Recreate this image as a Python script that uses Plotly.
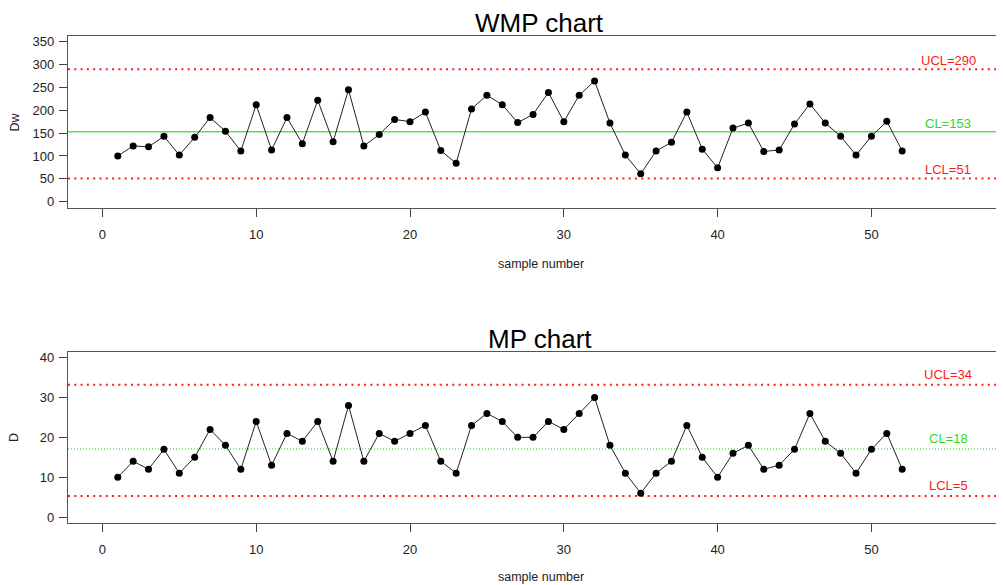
import plotly.graph_objects as go

# ---- data ----
sample = list(range(1, 53))
wmp_values = [100, 122, 120, 143, 102, 141, 184, 154, 111, 212, 113, 184, 127, 222, 131, 245,
              122, 147, 180, 175, 196, 112, 84, 203, 233, 212, 173, 191, 239, 175, 233, 264,
              172, 102, 61, 111, 130, 196, 115, 74, 161, 172, 110, 113, 170, 214, 172, 143,
              102, 143, 176, 111]
mp_values = [10, 14, 12, 17, 11, 15, 22, 18, 12, 24, 13, 21, 19, 24, 14, 28,
             14, 21, 19, 21, 23, 14, 11, 23, 26, 24, 20, 20, 24, 22, 26, 30,
             18, 11, 6, 11, 14, 23, 15, 10, 16, 18, 12, 13, 17, 26, 19, 16,
             11, 17, 21, 12]
wmp_limits = [290, 153, 51]          # UCL, CL, LCL (line positions)
wmp_limit_labels = ["UCL=290", "CL=153", "LCL=51"]
mp_limits = [33.2, 17.1, 5.3]         # UCL, CL, LCL (line positions)
mp_limit_labels = ["UCL=34", "CL=18", "LCL=5"]
x_ticks = [0, 10, 20, 30, 40, 50]
wmp_y_ticks = [0, 50, 100, 150, 200, 250, 300, 350]
mp_y_ticks = [0, 10, 20, 30, 40]
titles = ["WMP chart", "MP chart"]
y_titles = ["Dw", "D"]
x_title = "sample number"

FONT = "Liberation Sans, Arial, sans-serif"
RED = "#ff1a1a"
GREEN_LINE = "#5ddc5d"
GREEN_TXT = "#22dd22"

OFF = 8  # page body margin offset
fig = go.Figure()

fig.add_trace(go.Scatter(x=sample, y=wmp_values, mode="lines+markers",
                         line=dict(color="#222222", width=1),
                         marker=dict(color="black", size=7),
                         xaxis="x", yaxis="y", showlegend=False))
fig.add_trace(go.Scatter(x=sample, y=mp_values, mode="lines+markers",
                         line=dict(color="#222222", width=1),
                         marker=dict(color="black", size=7),
                         xaxis="x2", yaxis="y2", showlegend=False))

red_dot = dict(color=RED, width=2, dash="2px,4.3px")
# top chart limits
fig.add_shape(type="line", xref="x domain", yref="y", x0=0, x1=1, y0=wmp_limits[0], y1=wmp_limits[0], line=red_dot, layer="below")
fig.add_shape(type="line", xref="x domain", yref="y", x0=0, x1=1, y0=wmp_limits[1], y1=wmp_limits[1], line=dict(color=GREEN_LINE, width=1.3), layer="below")
fig.add_shape(type="line", xref="x domain", yref="y", x0=0, x1=1, y0=wmp_limits[2], y1=wmp_limits[2], line=red_dot, layer="below")
# bottom chart limits
fig.add_shape(type="line", xref="x2 domain", yref="y2", x0=0, x1=1, y0=mp_limits[0], y1=mp_limits[0], line=red_dot, layer="below")
fig.add_shape(type="line", xref="x2 domain", yref="y2", x0=0, x1=1, y0=mp_limits[1], y1=mp_limits[1], line=dict(color="#33cc33", width=1, dash="1px,2px"), layer="below")
fig.add_shape(type="line", xref="x2 domain", yref="y2", x0=0, x1=1, y0=mp_limits[2], y1=mp_limits[2], line=red_dot, layer="below")

annotations = []
label_colors = [RED, GREEN_TXT, RED]
for val, txt, col in zip(wmp_limits, wmp_limit_labels, label_colors):
    annotations.append(dict(x=55, y=val, xref="x", yref="y", text=txt, showarrow=False,
                            font=dict(family=FONT, size=13, color=col),
                            xanchor="center", yanchor="middle", yshift=8.5))
for val, txt, col in zip(mp_limits, mp_limit_labels, label_colors):
    annotations.append(dict(x=55, y=val, xref="x2", yref="y2", text=txt, showarrow=False,
                            font=dict(family=FONT, size=13, color=col),
                            xanchor="center", yanchor="middle", yshift=10.5))

# target-pixel geometry (page coordinates), converted to figure coordinates
W, H = 1004 - OFF, 585 - OFF
L, R = 68 - OFF, 0
T = 36 - OFF
B = H - (523 - OFF)
PH = H - T - B
PW = W - L - R

def px_x(p):
    return (p - OFF - L) / PW

def px_y(p):
    return (H - B - (p - OFF)) / PH

# titles
for txt, yc in zip(titles, [23.5, 339.2]):
    annotations.append(dict(x=px_x(539.5), y=px_y(yc), xref="paper", yref="paper", text=txt,
                            showarrow=False, font=dict(family=FONT, size=26, color="black"),
                            xanchor="center", yanchor="middle"))
# x titles
for yc in [264, 577]:
    annotations.append(dict(x=px_x(540.5), y=px_y(yc), xref="paper", yref="paper", text=x_title,
                            showarrow=False, font=dict(family=FONT, size=12.5, color="#222222"),
                            xanchor="center", yanchor="middle"))
# y titles
for txt, yc in zip(y_titles, [121.8, 437.2]):
    annotations.append(dict(x=px_x(14.7), y=px_y(yc), xref="paper", yref="paper", text=txt,
                            showarrow=False, textangle=-90, font=dict(family=FONT, size=12.5, color="#222222"),
                            xanchor="center", yanchor="middle"))

axis_common = dict(showline=True, linecolor="#555555", linewidth=1.3,
                   ticks="outside", ticklen=8, tickcolor="#444444", tickwidth=1,
                   showgrid=False, zeroline=False,
                   tickfont=dict(family=FONT, size=13, color="#222222"))

fig.update_layout(
    width=W, height=H,
    margin=dict(l=L, r=R, t=T, b=B),
    paper_bgcolor="white", plot_bgcolor="white",
    annotations=annotations,
    xaxis=dict(domain=[0, 1], range=[-2.237, 58.62], tickvals=x_ticks, anchor="y", mirror=True,
               ticklabelstandoff=6, **axis_common),
    yaxis=dict(domain=[px_y(208), 1], range=[-13.8, 362.5], tickvals=wmp_y_ticks, anchor="x", mirror=False,
               ticklabelstandoff=2, **axis_common),
    xaxis2=dict(domain=[0, 1], range=[-2.237, 58.62], tickvals=x_ticks, anchor="y2", mirror=True,
                ticklabelstandoff=6, **axis_common),
    yaxis2=dict(domain=[0, px_y(351.5)], range=[-1.5, 41.56], tickvals=mp_y_ticks, anchor="x2", mirror=False,
                ticklabelstandoff=2, **axis_common),
)

fig.write_html("out.html")
